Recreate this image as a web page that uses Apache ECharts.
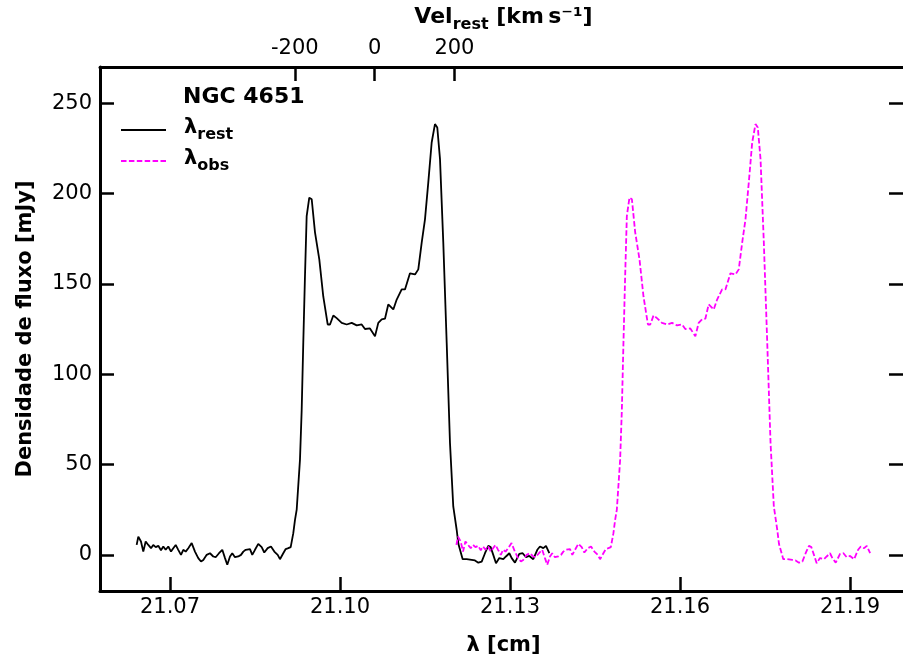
<!DOCTYPE html>
<html><head><meta charset="utf-8">
<script src="https://cdn.jsdelivr.net/npm/echarts@6/dist/echarts.min.js"></script>
<style>html,body{margin:0;padding:0;background:#fff}#c{width:903px;height:661px}</style>
</head><body><div id="c"></div>
<script>
// ---- data ----
const lambdaRest = [21.06412, 21.06441, 21.06488, 21.06529, 21.06571, 21.06617, 21.06665, 21.06705, 21.06748, 21.06794,
  21.06841, 21.06882, 21.06924, 21.0697, 21.07018, 21.07058, 21.07101, 21.07146, 21.07194, 21.07235,
  21.07277, 21.07323, 21.07383, 21.07441, 21.07499, 21.07547, 21.07588, 21.07648, 21.07706, 21.07764,
  21.07806, 21.07865, 21.07923, 21.07971, 21.08011, 21.08059, 21.08099, 21.08147, 21.08205, 21.08253,
  21.08294, 21.08336, 21.08371, 21.08412, 21.08452, 21.085, 21.08558, 21.08618, 21.08664, 21.08724,
  21.08782, 21.08841, 21.08901, 21.08941, 21.08999, 21.09042, 21.09088, 21.0913, 21.09176, 21.09206,
  21.09236, 21.09294, 21.09324, 21.09352, 21.09382, 21.09412, 21.09458, 21.09501, 21.09559, 21.09635,
  21.09705, 21.09783, 21.09824, 21.09882, 21.09942, 21.1003, 21.10118, 21.10207, 21.10295, 21.10383,
  21.10441, 21.10529, 21.10618, 21.10676, 21.10736, 21.10794, 21.10852, 21.10941, 21.11001, 21.11089,
  21.11147, 21.11235, 21.11324, 21.11382, 21.11442, 21.115, 21.11558, 21.11618, 21.11676, 21.11717,
  21.11765, 21.11823, 21.11883, 21.11941, 21.11999, 21.12059, 21.1209, 21.12165, 21.12236, 21.12324,
  21.12382, 21.12441, 21.12501, 21.12559, 21.12617, 21.12659, 21.12705, 21.12753, 21.12811, 21.12882,
  21.12929, 21.12988, 21.1303, 21.13088, 21.13164, 21.13224, 21.13282, 21.13341, 21.13411, 21.13482,
  21.13529, 21.13588, 21.13635, 21.13694];
const fluxRest = [5.5, 10.1, 7.4, 1.8, 7.4, 5.5, 3.7, 5.5, 4.3, 5.0,
  2.6, 4.6, 2.8, 4.6, 1.8, 3.7, 5.5, 2.8, 0.0, 2.8,
  1.8, 3.7, 6.5, 1.8, -1.8, -3.7, -2.8, 0.0, 0.9, -0.9,
  -1.3, 0.9, 2.8, -1.8, -5.5, -0.9, 0.9, -1.3, -0.9, 0.0,
  1.8, 2.8, 1.8, 3.2, 0.0, 2.8, 6.1, 4.3, 1.3, 3.7,
  4.6, 1.8, 0.0, -2.4, 0.9, 3.2, 3.7, 4.3, 12.0, 19.4,
  25.0, 52.7, 80.0, 117.0, 154.0, 187.5, 197.7, 196.8, 178.5, 163.5,
  143.0, 127.5, 127.5, 132.5, 131.0, 128.4, 127.5, 128.4, 127.0, 127.5,
  125.0, 125.3, 121.0, 128.4, 130.3, 130.7, 138.6, 135.8, 141.3, 146.9,
  146.9, 155.8, 155.2, 158.0, 172.8, 185.7, 206.0, 228.2, 238.4, 236.5,
  219.0, 172.8, 117.4, 62.0, 26.8, 13.9, 6.0, -2.4, -2.4, -2.8,
  -3.1, -4.3, -3.7, 0.9, 5.0, 4.3, 0.0, -4.6, -1.8, -2.4,
  -0.9, 0.9, -1.8, -4.3, 0.5, 0.9, -1.3, -0.6, -2.4, 2.8,
  4.6, 3.7, 5.0, 0.9];
const systemicVelocity = 803; // km/s, NGC 4651 (shift between λrest and λobs)
const xTicks = [21.07, 21.10, 21.13, 21.16, 21.19];
const velTicks = [-200, 0, 200];
const yTicks = [0, 50, 100, 150, 200, 250];
const seriesNames = ['rest', 'obs'];
const legendTitle = 'NGC 4651';

// ---- chart ----
const C = 299792.458, L0 = 21.106114;
const xMin = 21.05765, xMax = 21.20006;
const vMin = C * (xMin - L0) / L0, vMax = C * (xMax - L0) / L0;
const restData = lambdaRest.map((l, i) => [l, fluxRest[i]]);
const obsData = lambdaRest.map((l, i) => [l * (1 + systemicVelocity / C), fluxRest[i]]);
const FF = 'DejaVu Sans';
const black = '#000';
const tickStyle = { color: black, width: 2.5 };
const lineAx = { show: true, onZero: false, lineStyle: { color: black, width: 3 } };
const nameStyle = { fontSize: 21, fontWeight: 'bold', color: black, fontFamily: FF };

const chart = echarts.init(document.getElementById('c'), null, { renderer: 'canvas' });
chart.setOption({
  animation: false,
  backgroundColor: '#fff',
  grid: { left: 100, right: -4, top: 67, bottom: 70, containLabel: false, outerBoundsMode: 'none' },
  title: { text: legendTitle, left: 183, top: 86, padding: 0,
    textStyle: { fontSize: 22, fontWeight: 'bold', fontFamily: FF, color: black } },
  legend: {
    orient: 'vertical', left: 120, top: 117, padding: 0, itemWidth: 45, itemHeight: 14, itemGap: 5,
    data: seriesNames,
    itemStyle: { opacity: 0 },
    formatter: n => '{m|λ}{s|' + n + '}',
    textStyle: {
      padding: [0, 0, 0, 13],
      rich: {
        m: { fontSize: 21, fontWeight: 'bold', fontFamily: FF, color: black, verticalAlign: 'bottom', padding: [0, 0, 5, 0] },
        s: { fontSize: 16, fontWeight: 'bold', fontFamily: FF, color: black, verticalAlign: 'bottom' }
      }
    }
  },
  xAxis: [
    { type: 'value', position: 'bottom', min: xMin, max: xMax,
      axisLine: lineAx,
      axisTick: { show: true, inside: true, length: 14, lineStyle: tickStyle, customValues: xTicks },
      axisLabel: { customValues: xTicks, formatter: v => v.toFixed(2), fontSize: 21, color: black, fontFamily: FF, margin: 6 },
      splitLine: { show: false },
      name: 'λ [cm]', nameLocation: 'middle', nameGap: 44, nameTextStyle: nameStyle },
    { type: 'value', position: 'top', min: vMin, max: vMax,
      axisLine: lineAx,
      axisTick: { show: true, inside: true, length: 14, lineStyle: tickStyle, customValues: velTicks },
      axisLabel: { customValues: velTicks, formatter: v => String(Math.round(v)), fontSize: 21, color: black, fontFamily: FF, margin: 8 },
      splitLine: { show: false },
      name: '{m|Vel}{s|rest}{m| [km\u2009s\u207B\u00B9]}', nameLocation: 'middle', nameGap: 33,
      nameTextStyle: { rich: {
        m: { fontSize: 22, fontWeight: 'bold', fontFamily: FF, color: black, verticalAlign: 'bottom', padding: [0, 0, 5, 0] },
        s: { fontSize: 16, fontWeight: 'bold', fontFamily: FF, color: black, verticalAlign: 'bottom' } } } }
  ],
  yAxis: [
    { type: 'value', position: 'left', min: -20, max: 270,
      axisLine: lineAx,
      axisTick: { show: true, inside: true, length: 14, lineStyle: tickStyle, customValues: yTicks },
      axisLabel: { customValues: yTicks, fontSize: 21, color: black, fontFamily: FF, margin: 8 },
      splitLine: { show: false },
      name: 'Densidade de fluxo [mJy]', nameLocation: 'middle', nameGap: 64, nameTextStyle: nameStyle },
    { type: 'value', position: 'right', min: -20, max: 270,
      axisLine: lineAx,
      axisTick: { show: true, inside: true, length: 18, lineStyle: tickStyle, customValues: yTicks },
      axisLabel: { show: false },
      splitLine: { show: false } }
  ],
  series: [
    { type: 'line', name: 'rest', data: restData, xAxisIndex: 0, yAxisIndex: 0, symbol: 'none',
      lineStyle: { color: black, width: 1.8 }, itemStyle: { color: black } },
    { type: 'line', name: 'obs', data: obsData, xAxisIndex: 0, yAxisIndex: 0, symbol: 'none',
      lineStyle: { color: '#ff00ff', width: 1.8, type: [5.5, 2.4] }, itemStyle: { color: '#ff00ff' } }
  ]
});
</script></body></html>
